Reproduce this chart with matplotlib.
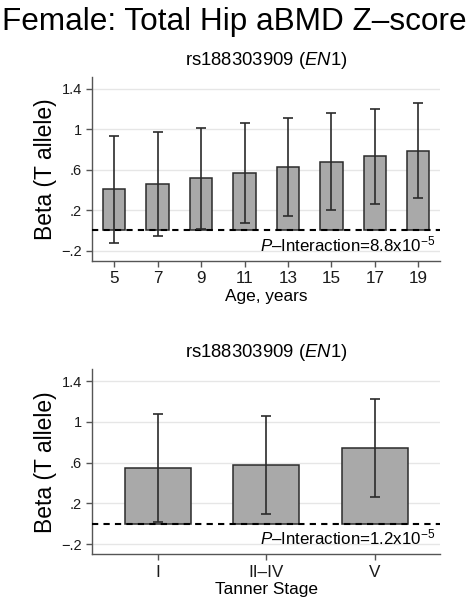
import matplotlib
matplotlib.use("Agg")
import matplotlib.pyplot as plt
import numpy as np

plt.rcParams['font.family'] = ['Liberation Sans', 'DejaVu Sans']
plt.rcParams['mathtext.fontset'] = 'custom'
plt.rcParams['mathtext.rm'] = 'Liberation Sans'
plt.rcParams['mathtext.it'] = 'Liberation Sans:italic'
plt.rcParams['mathtext.default'] = 'regular'

# Data
ages = [5, 7, 9, 11, 13, 15, 17, 19]
age_beta = [0.408, 0.461, 0.517, 0.570, 0.626, 0.681, 0.734, 0.790]
age_hi = [0.932, 0.974, 1.017, 1.063, 1.109, 1.159, 1.205, 1.258]
age_lo = [-0.122, -0.053, 0.010, 0.076, 0.142, 0.201, 0.260, 0.323]

tanner = ["I", "II\u2013IV", "V"]
tanner_beta = [0.550, 0.573, 0.741]
tanner_hi = [1.077, 1.053, 1.225]
tanner_lo = [0.020, 0.095, 0.260]

yticks = [-0.2, 0.2, 0.6, 1.0, 1.4]
yticklabels = ["\u2212.2", ".2", ".6", "1", "1.4"]

title = "Female: Total Hip aBMD Z\u2013score"
subtitle = r"rs188303909 ($\mathit{EN1}$)"
p_age = r"$\mathit{P}$" + "\u2013Interaction=8.8x10" + r"$^{-5}$"
p_tanner = r"$\mathit{P}$" + "\u2013Interaction=1.2x10" + r"$^{-5}$"

BAR = '#a9a9a9'
EDGE = '#2b2b2b'
SPINE = '#555555'
GRID = '#e6e6e6'

fig = plt.figure(figsize=(4.69, 6.0), dpi=100)
fig.text(0.5, 0.988, title, ha='center', va='top', fontsize=22.7)

ax1 = fig.add_axes([0.1972, 0.5655, 0.741, 0.3057])
ax2 = fig.add_axes([0.1972, 0.0762, 0.741, 0.3083])


def style(ax):
    ax.set_ylim(-0.3, 1.515)
    ax.set_yticks(yticks)
    ax.set_yticklabels(yticklabels, fontsize=10.5)
    ax.yaxis.grid(True, color=GRID, linewidth=1)
    ax.set_axisbelow(True)
    for s in ['top', 'right']:
        ax.spines[s].set_visible(False)
    for s in ['left', 'bottom']:
        ax.spines[s].set_color(SPINE)
        ax.spines[s].set_linewidth(1)
    ax.tick_params(axis='both', colors=SPINE, length=4, width=1, labelcolor='#1a1a1a')
    ax.tick_params(axis='x', labelsize=12.3)
    ax.set_ylabel("Beta (T allele)", fontsize=16.5, labelpad=3)
    ax.set_title(subtitle, fontsize=13.3, pad=9)
    ax.axhline(0, color='black', linestyle=(0, (3, 2.5)), linewidth=1.5, zorder=4)


# Top panel
err1 = [np.array(age_beta) - np.array(age_lo), np.array(age_hi) - np.array(age_beta)]
ax1.bar(ages, age_beta, width=1.03, color=BAR, edgecolor=EDGE, linewidth=1.1, zorder=2)
ax1.errorbar(ages, age_beta, yerr=err1, fmt='none', ecolor=EDGE, elinewidth=1.2,
             capsize=3.5, capthick=1.2, zorder=5)
ax1.set_xlim(4, 20)
ax1.set_xticks(ages)
ax1.set_xticklabels([str(a) for a in ages])
style(ax1)
ax1.set_xlabel("Age, years", fontsize=12.4, labelpad=2)
ax1.text(0.985, 0.09, p_age, transform=ax1.transAxes, ha='right', va='center', fontsize=12.2)

# Bottom panel
xpos = np.arange(1, len(tanner) + 1)
err2 = [np.array(tanner_beta) - np.array(tanner_lo), np.array(tanner_hi) - np.array(tanner_beta)]
ax2.bar(xpos, tanner_beta, width=0.607, color=BAR, edgecolor=EDGE, linewidth=1.1, zorder=2)
ax2.errorbar(xpos, tanner_beta, yerr=err2, fmt='none', ecolor=EDGE, elinewidth=1.2,
             capsize=3.5, capthick=1.2, zorder=5)
ax2.set_xlim(0.4, 3.6)
ax2.set_xticks(xpos)
ax2.set_xticklabels(tanner)
style(ax2)
ax2.set_xlabel("Tanner Stage", fontsize=12.4, labelpad=2)
ax2.text(0.985, 0.09, p_tanner, transform=ax2.transAxes, ha='right', va='center', fontsize=12.2)

fig.savefig("out.png", dpi=100)
